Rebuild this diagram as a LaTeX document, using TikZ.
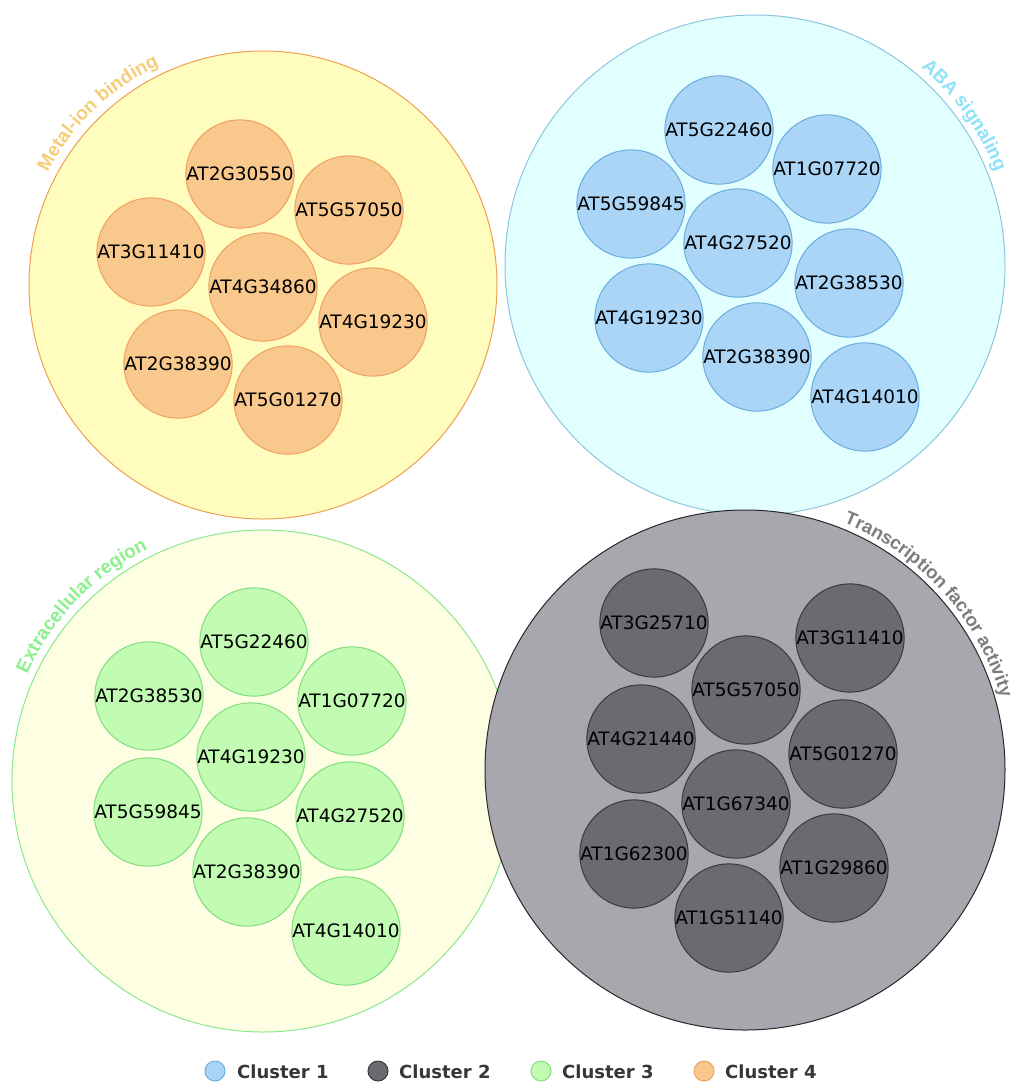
\documentclass[tikz,border=0pt]{standalone}
\usepackage{fontspec}
\setmainfont{DejaVu Sans}
\newfontfamily\arclabelfont{Liberation Sans}
\usetikzlibrary{decorations.text}
\definecolor{oBig}{RGB}{254,253,190}
\definecolor{oBigD}{RGB}{238,160,80}
\definecolor{oSm}{RGB}{249,200,140}
\definecolor{oSmD}{RGB}{240,160,96}
\definecolor{oLab}{RGB}{246,206,122}
\definecolor{cBig}{RGB}{226,255,255}
\definecolor{cBigD}{RGB}{140,198,222}
\definecolor{cSm}{RGB}{170,213,246}
\definecolor{cSmD}{RGB}{106,172,222}
\definecolor{cLab}{RGB}{142,226,248}
\definecolor{gBig}{RGB}{253,254,226}
\definecolor{gBigD}{RGB}{140,232,140}
\definecolor{gSm}{RGB}{194,252,178}
\definecolor{gSmD}{RGB}{128,222,128}
\definecolor{gLab}{RGB}{140,240,140}
\definecolor{kBig}{RGB}{168,167,174}
\definecolor{kBigD}{RGB}{40,40,42}
\definecolor{kSm}{RGB}{107,106,112}
\definecolor{kSmD}{RGB}{58,58,60}
\definecolor{kLab}{RGB}{125,125,125}
\definecolor{legTxt}{RGB}{55,55,58}
\tikzset{
  bigc/.style={circle, inner sep=0pt, line width=1pt},
  gene/.style={circle, inner sep=0pt, minimum size=108pt, line width=1pt, font=\fontsize{18.5}{20}\selectfont, text=black},
  ogene/.style={gene, draw=oSmD, fill=oSm},
  cgene/.style={gene, draw=cSmD, fill=cSm},
  ggene/.style={gene, draw=gSmD, fill=gSm},
  kgene/.style={gene, draw=kSmD, fill=kSm},
  legc/.style={circle, inner sep=0pt, minimum size=20pt, line width=1pt},
  legt/.style={anchor=west, inner sep=0pt, text=legTxt, font=\bfseries\fontsize{18}{20}\selectfont},
}
\begin{document}
\begin{tikzpicture}[x=1pt,y=-1pt]
\useasboundingbox (0,0) rectangle (1015,1082);
\fill[white] (0,0) rectangle (1015,1082);
% big circles
\node[bigc, minimum size=468pt, draw=oBigD, fill=oBig] (O) at (263,285) {};
\node[bigc, minimum size=500pt, draw=cBigD, fill=cBig] (C) at (755,265) {};
\node[bigc, minimum size=502pt, draw=gBigD, fill=gBig] (G) at (263,781) {};
\node[bigc, minimum size=520pt, draw=kBigD, fill=kBig] (K) at (745,770) {};
% arc labels
\path[decorate, decoration={text along path, text align=center,
  text={|\arclabelfont\bfseries\fontsize{19}{20}\selectfont\color{oLab}|Metal-ion binding}}]
  (O.center) ++(-158.8:243) arc[start angle=-158.8, end angle=-108.8, radius=243];
\path[decorate, decoration={text along path, text align=center,
  text={|\arclabelfont\bfseries\fontsize{19}{20}\selectfont\color{cLab}|ABA signaling}}]
  (C.center) ++(-57.5:258) arc[start angle=-57.5, end angle=-13.5, radius=258];
\path[decorate, decoration={text along path, text align=center,
  text={|\arclabelfont\bfseries\fontsize{19}{20}\selectfont\color{gLab}|Extracellular region}}]
  (G.center) ++(-161.5:259) arc[start angle=-161.5, end angle=-110.5, radius=259];
\path[decorate, decoration={text along path, text align=center,
  text={|\arclabelfont\bfseries\fontsize{18.5}{20}\selectfont\color{kLab}|Transcription factor activity}}]
  (K.center) ++(-73:266) arc[start angle=-73, end angle=-11, radius=266];
% cluster 4 (orange)
\node[ogene] (o1) at (240,174) {AT2G30550};
\node[ogene] (o2) at (349,210) {AT5G57050};
\node[ogene] (o3) at (151,252) {AT3G11410};
\node[ogene] (o4) at (263,287) {AT4G34860};
\node[ogene] (o5) at (373,322) {AT4G19230};
\node[ogene] (o6) at (178,364) {AT2G38390};
\node[ogene] (o7) at (288,400) {AT5G01270};
% cluster 1 (blue)
\node[cgene] (c1) at (719,130) {AT5G22460};
\node[cgene] (c2) at (827,169) {AT1G07720};
\node[cgene] (c3) at (631,204) {AT5G59845};
\node[cgene] (c4) at (738,243) {AT4G27520};
\node[cgene] (c5) at (849,283) {AT2G38530};
\node[cgene] (c6) at (649,318) {AT4G19230};
\node[cgene] (c7) at (757,357) {AT2G38390};
\node[cgene] (c8) at (865,397) {AT4G14010};
% cluster 3 (green)
\node[ggene] (g1) at (254,642) {AT5G22460};
\node[ggene] (g2) at (149,696) {AT2G38530};
\node[ggene] (g3) at (352,701) {AT1G07720};
\node[ggene] (g4) at (251,757) {AT4G19230};
\node[ggene] (g5) at (148,812) {AT5G59845};
\node[ggene] (g6) at (350,816) {AT4G27520};
\node[ggene] (g7) at (247,872) {AT2G38390};
\node[ggene] (g8) at (346,931) {AT4G14010};
% cluster 2 (grey)
\node[kgene] (k1) at (654,623) {AT3G25710};
\node[kgene] (k2) at (850,638) {AT3G11410};
\node[kgene] (k3) at (746,690) {AT5G57050};
\node[kgene] (k4) at (641,739) {AT4G21440};
\node[kgene] (k5) at (843,754) {AT5G01270};
\node[kgene] (k6) at (736,804) {AT1G67340};
\node[kgene] (k7) at (634,854) {AT1G62300};
\node[kgene] (k8) at (834,868) {AT1G29860};
\node[kgene] (k9) at (729,918) {AT1G51140};
% legend
\node[legc, draw=cSmD, fill=cSm] (l1) at (215,1071) {};
\node[legt] (lt1) at (237,1072) {Cluster 1};
\node[legc, draw=kSmD, fill=kSm] (l2) at (378,1071) {};
\node[legt] (lt2) at (399,1072) {Cluster 2};
\node[legc, draw=gSmD, fill=gSm] (l3) at (541,1071) {};
\node[legt] (lt3) at (562,1072) {Cluster 3};
\node[legc, draw=oSmD, fill=oSm] (l4) at (704,1071) {};
\node[legt] (lt4) at (725,1072) {Cluster 4};
\end{tikzpicture}
\end{document}
